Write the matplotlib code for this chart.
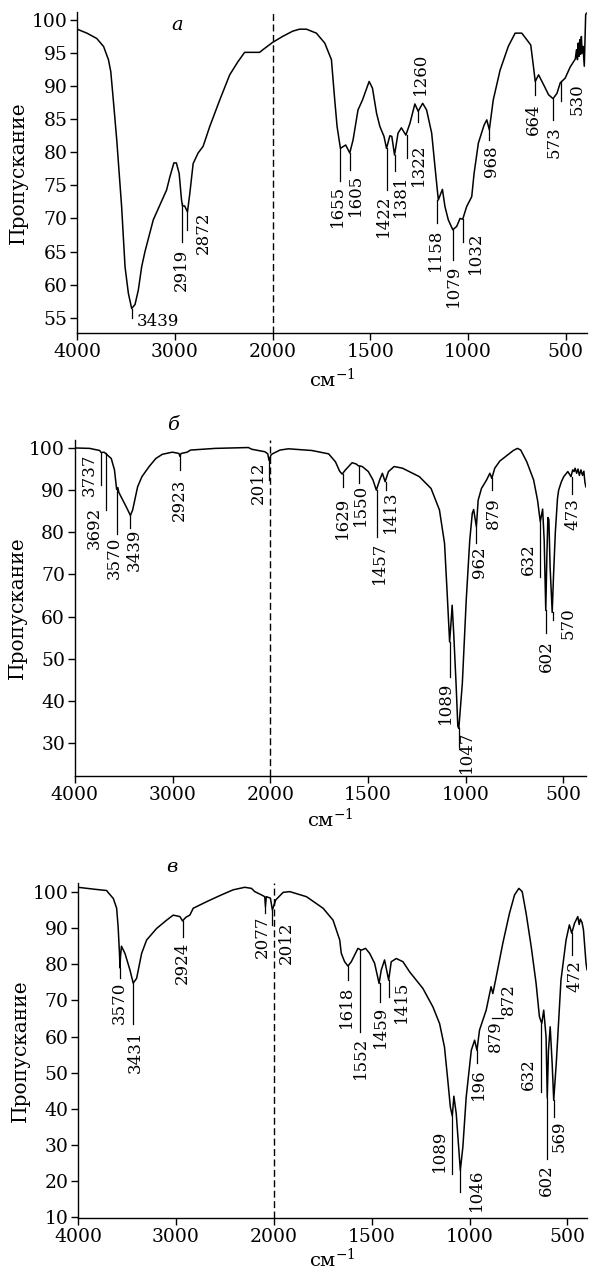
import matplotlib
matplotlib.use("Agg")
import matplotlib.pyplot as plt
import numpy as np

plt.rcParams['font.family'] = ['DejaVu Serif']
plt.rcParams['mathtext.fontset'] = 'dejavuserif'

# ---- spectrum a ----
a_wn = [4000, 3900, 3800, 3730, 3680, 3656, 3630, 3595, 3545, 3510, 3476, 3442, 3408, 3374, 3340,
        3306, 3221, 3085, 3051, 3010, 2985, 2956, 2932, 2922, 2900, 2871, 2847, 2813, 2762, 2711,
        2643, 2541, 2439, 2354, 2286, 2133, 2099, 2000, 1949, 1897, 1862, 1827, 1776, 1733, 1699,
        1682, 1670, 1653, 1626, 1605, 1588, 1563, 1540, 1506, 1489, 1468, 1451, 1430, 1417, 1400,
        1390, 1376, 1358, 1341, 1318, 1297, 1272, 1255, 1232, 1212, 1186, 1169, 1152, 1131, 1118,
        1101, 1078, 1058, 1041, 1027, 1007, 981, 969, 947, 918, 904, 891, 871, 836, 794,
        759, 725, 699, 679, 665, 656, 639, 613, 588, 565, 545, 528, 503, 477, 451,
        445, 440, 436, 432, 428, 424, 420, 416, 412, 405, 398, 394]
a_T = [98.6, 98.0, 97.2, 96.0, 94.0, 92.2, 87.9, 81.9, 71.8, 62.7, 58.7, 56.4, 57.0, 59.2, 62.7,
       65.0, 69.8, 74.3, 76.3, 78.4, 78.4, 76.8, 72.8, 71.9, 71.9, 71.0, 73.8, 78.3, 79.9, 80.9,
       83.9, 87.9, 91.7, 93.7, 95.1, 95.1, 95.5, 96.6, 97.5, 98.3, 98.6, 98.6, 98.0, 96.5, 94.0,
       87.9, 83.9, 80.6, 81.1, 79.9, 81.9, 86.4, 87.9, 90.7, 89.7, 85.9, 83.9, 82.4, 80.6, 82.5,
       82.4, 79.6, 82.9, 83.7, 82.6, 84.4, 87.3, 86.2, 87.4, 86.4, 82.9, 77.8, 72.8, 74.4, 71.8,
       69.8, 68.3, 68.8, 70.0, 69.9, 71.8, 73.3, 76.8, 81.4, 84.1, 84.9, 83.4, 87.9, 92.4, 96.0,
       98.0, 98.0, 97.0, 96.2, 92.9, 90.7, 91.7, 90.2, 88.7, 88.1, 88.9, 90.5, 91.2, 92.9, 94.1,
       95.5, 94.0, 96.5, 94.5, 97.0, 94.8, 97.5, 95.0, 96.0, 93.0, 100.8, 101.0]

a_lbl = ['3439', '2919', '2872', '1655', '1605', '1422', '1381', '1322', '1260', '1158',
         '1079', '1032', '968', '664', '573', '530']
a_lx = [3442, 2932, 2874, 1653, 1605, 1415, 1374, 1313, 1255, 1160, 1078, 1027, 891, 656, 566, 525]
a_ly0 = [56.4, 72.3, 71.0, 80.6, 79.9, 80.6, 79.6, 82.6, 86.2, 72.8, 68.3, 69.9, 83.4, 90.7, 88.1, 90.7]
a_ly1 = [55.0, 66.5, 68.3, 75.6, 77.3, 74.3, 77.2, 79.1, 84.6, 69.3, 63.7, 66.5, 81.9, 88.7, 84.9, 87.7]
a_tx = [3390, 2932, 2714, 1666, 1574, 1432, 1344, 1255, 1246, 1169, 1075, 964, 879, 665, 559, 442]
a_ty = [54.4, 65.5, 71.0, 75.1, 76.8, 73.6, 76.6, 81.4, 88.6, 68.5, 63.0, 68.0, 81.1, 87.4, 83.9, 90.4]

# ---- spectrum б ----
b_wn = [4000, 3848, 3746, 3729, 3700, 3685, 3627, 3594, 3572, 3560, 3550, 3526, 3475, 3431, 3408,
        3357, 3313, 3239, 3171, 3104, 3002, 2934, 2924, 2912, 2850, 2816, 2562, 2223, 2190, 2054,
        2025, 2013, 1995, 1985, 1950, 1907, 1787, 1701, 1666, 1645, 1632, 1615, 1581, 1560, 1550,
        1529, 1498, 1474, 1457, 1440, 1426, 1412, 1395, 1366, 1323, 1237, 1177, 1134, 1108, 1095,
        1082, 1074, 1069, 1061, 1049, 1040, 1035, 1017, 997, 979, 966, 959, 945, 936, 919,
        893, 876, 866, 851, 825, 756, 735, 718, 687, 652, 632, 618, 606, 598, 590,
        584, 579, 574, 568, 557, 550, 541, 530, 524, 510, 498, 477, 461, 452, 445,
        440, 432, 425, 418, 410, 402, 395, 390, 385]
b_T = [100.0, 99.9, 99.4, 98.9, 99.0, 98.7, 97.5, 94.8, 90.2, 90.6, 89.5, 88.4, 86.1, 84.0, 85.3,
       90.8, 93.2, 95.6, 97.5, 98.5, 99.0, 98.7, 98.0, 98.7, 99.0, 99.5, 99.9, 100.1, 99.7, 99.1,
       98.6, 97.1, 98.4, 98.7, 99.5, 99.8, 99.4, 98.6, 96.7, 94.5, 93.8, 94.8, 96.5, 96.2, 95.8,
       95.6, 94.4, 92.4, 90.0, 92.4, 94.0, 92.0, 94.4, 95.6, 95.2, 93.2, 90.4, 85.3, 77.4, 66.0,
       54.0, 59.1, 62.7, 56.0, 44.1, 34.0, 33.5, 44.1, 63.9, 78.1, 84.5, 85.4, 81.3, 87.6, 90.4,
       92.4, 94.0, 92.8, 95.2, 96.9, 99.4, 99.9, 99.5, 96.7, 92.4, 87.6, 82.5, 85.5, 78.0, 61.5,
       75.0, 83.5, 83.0, 72.0, 61.0, 70.0, 80.0, 88.0, 90.0, 92.0, 93.2, 94.4, 93.2, 94.8, 94.4,
       95.2, 94.0, 95.0, 93.5, 94.8, 93.5, 94.5, 92.0, 90.8]

b_lbl = ['3737', '3692', '3570', '3439', '2923', '2012', '1629', '1550', '1457', '1413',
         '1089', '1047', '962', '879', '632', '602', '570', '473']
b_lx = [3729, 3685, 3571, 3431, 2924, 2013, 1629, 1546, 1452, 1409, 1080, 1035, 945, 866, 619, 590, 555, 455]
b_ly0 = [98.9, 98.7, 90.4, 84.0, 98.0, 97.1, 93.8, 95.8, 90.0, 92.0, 54.0, 33.5, 81.3, 92.8, 82.5, 61.5, 61.0, 93.2]
b_ly1 = [91.2, 85.3, 79.7, 80.9, 94.8, 92.4, 90.8, 91.6, 78.9, 90.0, 45.7, 29.1, 77.4, 90.0, 69.4, 56.0, 59.1, 89.2]
b_tx = [3848, 3797, 3594, 3391, 2934, 2122, 1629, 1537, 1443, 1383, 1105, 994, 928, 859, 678, 585, 474, 451]
b_ty = [98.7, 86.1, 78.9, 80.9, 92.8, 96.8, 88.4, 91.4, 77.7, 90.0, 44.5, 33.0, 76.6, 88.4, 77.4, 54.4, 62.3, 88.0]

# ---- spectrum в ----
c_wn = [4000, 3844, 3707, 3690, 3639, 3605, 3590, 3576, 3571, 3566, 3556, 3520, 3469, 3436, 3401,
        3350, 3299, 3197, 3095, 3027, 2959, 2932, 2898, 2857, 2823, 2687, 2551, 2415, 2296, 2228,
        2194, 2126, 2092, 2085, 2076, 2034, 2014, 1990, 1952, 1918, 1833, 1748, 1697, 1663, 1655,
        1638, 1621, 1604, 1570, 1553, 1531, 1510, 1485, 1462, 1451, 1434, 1413, 1400, 1374, 1340,
        1306, 1238, 1187, 1153, 1128, 1111, 1098, 1088, 1080, 1068, 1047, 1034, 1017, 991, 974,
        962, 949, 915, 890, 881, 867, 830, 796, 770, 748, 731, 711, 685, 660, 643,
        631, 621, 609, 603, 597, 588, 578, 570, 557, 533, 507, 490, 478, 464, 447,
        440, 434, 425, 418, 405, 400]
c_T = [101.3, 100.8, 100.4, 99.8, 98.2, 95.5, 90.4, 83.0, 79.0, 82.0, 85.0, 83.0, 78.4, 74.8, 76.1,
       83.0, 86.7, 89.9, 92.2, 93.6, 93.2, 92.0, 93.0, 93.6, 95.5, 97.3, 99.0, 100.6, 101.3, 101.0,
       100.1, 99.2, 98.7, 95.9, 98.7, 98.3, 95.0, 97.8, 99.9, 100.1, 98.7, 95.5, 92.2, 86.7, 83.0,
       80.7, 79.5, 80.7, 84.4, 83.9, 84.4, 83.0, 80.3, 74.7, 78.4, 81.2, 75.6, 80.7, 81.6, 80.7,
       77.9, 73.3, 68.2, 63.6, 57.1, 47.9, 40.5, 38.0, 43.5, 38.7, 23.0, 29.5, 43.3, 56.2, 59.0,
       56.2, 61.8, 67.3, 73.8, 71.9, 75.6, 85.8, 94.1, 99.2, 101.0, 100.1, 94.1, 84.9, 74.7, 65.5,
       63.6, 67.3, 59.9, 43.0, 56.0, 62.7, 52.6, 42.4, 52.6, 75.6, 86.7, 90.9, 88.6, 91.3, 93.2,
       91.0, 92.5, 91.5, 89.5, 80.3, 78.5]

c_lbl = ['3570', '3431', '2924', '2077', '2012', '1618', '1552', '1459', '1415', '1089',
         '1046', '196', '879', '872', '632', '602', '569', '472']
c_lx = [3571, 3436, 2932, 2085, 2014, 1621, 1558, 1456, 1413, 1088, 1047, 962, 881, 881, 634, 603, 570, 478]
c_ly0 = [79.0, 74.8, 92.0, 95.9, 95.0, 79.5, 84.0, 74.7, 75.6, 38.0, 23.0, 56.2, 71.9, 71.9, 63.6, 43.0, 42.4, 88.6]
c_ly1 = [76.1, 63.6, 87.6, 94.1, 90.9, 75.6, 61.3, 69.5, 71.0, 22.1, 17.0, 52.6, 71.9, 71.9, 44.7, 26.2, 37.7, 82.6]
c_tx = [3578, 3418, 2932, 2115, 1935, 1629, 1556, 1456, 1349, 1153, 965, 952, 868, 801, 700, 608, 541, 464]
c_ty = [75.2, 61.8, 86.2, 93.6, 91.8, 74.2, 59.9, 68.5, 75.6, 34.3, 23.5, 51.2, 64.6, 74.8, 53.9, 24.8, 36.9, 81.2]

x_ticks = [4000, 3000, 2000, 1500, 1000, 500]


def fwd(w):
    w = np.asarray(w, dtype=float)
    return np.where(w > 2000, 2000 + (w - 2000) / 2.0, w)


def inv(u):
    u = np.asarray(u, dtype=float)
    return np.where(u > 2000, 2000 + (u - 2000) * 2.0, u)


def setup(ax, xlim, ylim, yticks, letter, lx, pad):
    ax.set_xscale('function', functions=(fwd, inv))
    ax.set_xlim(*xlim)
    ax.set_ylim(*ylim)
    ax.set_xticks(x_ticks)
    ax.set_xticklabels([str(t) for t in x_ticks])
    ax.set_yticks(yticks)
    ax.set_yticklabels([str(t) for t in yticks])
    ax.xaxis.set_minor_locator(matplotlib.ticker.NullLocator())
    for s in ['top', 'right']:
        ax.spines[s].set_visible(False)
    for s in ['left', 'bottom']:
        ax.spines[s].set_linewidth(1.0)
    ax.tick_params(direction='out', length=5, width=1.0, labelsize=13.5, pad=2)
    ax.axvline(2000, color='k', lw=1.0, ls=(0, (5, 2.5)))
    ax.set_xlabel('см$^{-1}$', fontsize=14, labelpad=pad)
    ax.set_ylabel('Пропускание', fontsize=14.5, va='center')
    ax.yaxis.set_label_coords(lx, 0.5)
    ax.text(letter[0], letter[1], letter[2], transform=ax.transAxes, fontstyle='italic',
            fontsize=14, ha='center', va='center')


def peaks(ax, texts, lx, ly0, ly1, tx, ty):
    for i in range(len(texts)):
        ax.plot([lx[i], lx[i]], [ly0[i], ly1[i]], color='k', lw=0.9)
        rot, ha, va = 90, 'center', 'top'
        if texts[i] == '3439' and ax is axa:
            rot, ha, va = 0, 'left', 'center'
        if texts[i] == '1260':
            va = 'bottom'
        ax.text(tx[i], ty[i], texts[i], rotation=rot, ha=ha, va=va, fontsize=12)


fig = plt.figure(figsize=(5.89, 12.73), dpi=100)
axa = fig.add_axes([0.131, 0.7384, 0.866, 0.2522])
axb = fig.add_axes([0.127, 0.3904, 0.8676, 0.264])
axc = fig.add_axes([0.1324, 0.0432, 0.8642, 0.2632])

axa.plot(a_wn, a_T, color='k', lw=1.1)
setup(axa, (4000, 390), (52.7, 101.2), list(range(55, 101, 5)), (0.196, 0.96, 'а'), -0.115, 5)
peaks(axa, a_lbl, a_lx, a_ly0, a_ly1, a_tx, a_ty)

axb.plot(b_wn, b_T, color='k', lw=1.1)
setup(axb, (4000, 385), (22.2, 101.9), list(range(30, 101, 10)), (0.192, 1.045, 'б'), -0.112, 3)
peaks(axb, b_lbl, b_lx, b_ly0, b_ly1, b_tx, b_ty)

axc.plot(c_wn, c_T, color='k', lw=1.1)
setup(axc, (4000, 400), (9.8, 102.5), list(range(10, 101, 10)), (0.185, 1.048, 'в'), -0.114, 1)
peaks(axc, c_lbl, c_lx, c_ly0, c_ly1, c_tx, c_ty)
axc.plot([885, 830], [65.0, 65.0], color='k', lw=0.9)

fig.savefig('out.png', dpi=100)
